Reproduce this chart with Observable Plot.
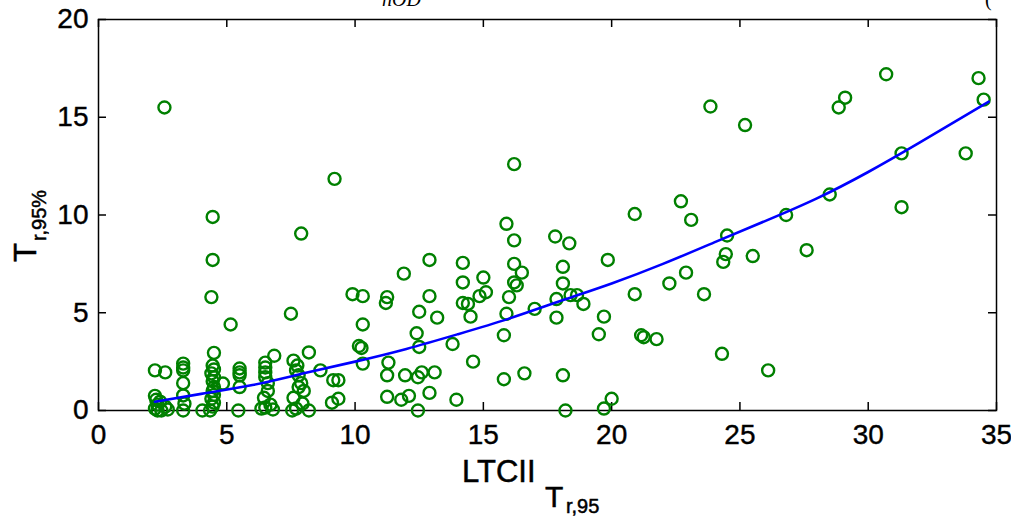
<!DOCTYPE html>
<html>
<head>
<meta charset="utf-8">
<script src="https://cdn.jsdelivr.net/npm/d3@7"></script>
<script src="https://cdn.jsdelivr.net/npm/@observablehq/plot@0.6"></script>
<style>
  html, body { margin: 0; padding: 0; background: #fff; }
  #chart { width: 1011px; height: 518px; overflow: hidden; }
</style>
</head>
<body>
<div id="chart"></div>
<script>
// Observed LTCII (x) against T_r,95% (y)
const ltcii = [
  2.57, 2.2, 2.6, 2.2, 2.25, 2.3, 2.2, 2.45, 2.6, 2.4, 2.7, 2.3,
  3.3, 3.3, 3.3, 3.3, 3.3, 3.35, 3.3,
  4.45, 4.45, 4.4, 4.5, 4.45, 4.5, 4.4, 4.5, 4.45, 4.5, 4.45, 4.5, 4.4, 4.5, 4.45, 4.85, 4.05, 4.35,
  5.15, 5.5, 5.5, 5.5, 5.5, 5.45,
  6.85, 6.5, 6.5, 6.5, 6.5, 6.6, 6.45, 6.5, 6.35, 6.7, 6.6, 6.8,
  7.5, 7.9, 8.2, 7.6, 7.75, 7.7, 7.8, 7.9, 8.0, 7.6, 7.95, 7.55, 8.2, 7.8, 7.7,
  8.65, 9.15, 9.35, 9.1, 9.35, 9.2,
  9.9, 10.3, 11.9, 12.9, 14.2, 11.25, 11.2, 12.9, 14.2, 15.0, 14.2, 14.4, 14.5, 14.85, 15.1,
  12.5, 13.2, 10.3, 12.4, 10.15, 10.25, 12.5, 13.8, 10.3, 11.3, 14.6, 11.25, 11.95, 12.45,
  12.6, 13.1, 11.25, 11.8, 12.1, 12.9, 13.95, 12.45,
  16.2, 15.9, 16.2, 16.2, 16.5, 16.2, 16.3, 16.0, 15.9, 15.8, 15.8, 16.6, 17.0, 17.8, 18.35,
  18.1, 18.1, 17.85, 17.85, 18.4, 18.65, 18.9, 18.1, 18.2, 19.85, 20.9, 20.9, 19.7, 19.5,
  21.15, 21.25, 21.75, 20.0, 19.7,
  23.85, 25.2, 30.7, 34.3, 29.1, 28.85, 34.5, 31.3, 33.8, 31.3, 28.5, 26.8, 27.6, 22.7,
  23.1, 24.5, 24.45, 24.35, 25.5, 22.9, 22.25, 23.6, 24.3, 26.1
];
const tr95 = [
  15.5, 2.05, 1.95, 0.75, 0.55, 0.3, 0.1, 0.0, 0.2, 0.45, 0.05, 0.0,
  2.4, 2.2, 2.05, 1.4, 0.77, 0.35, 0.0,
  9.9, 7.7, 5.8, 2.95, 2.3, 2.1, 1.9, 1.7, 1.5, 1.2, 1.0, 0.8, 0.6, 0.4, 0.2, 1.38, 0.0, 0.0,
  4.4, 2.15, 1.95, 1.8, 1.2, 0.0,
  2.8, 2.45, 2.2, 1.95, 1.7, 1.4, 0.65, 0.15, 0.1, 0.3, 1.0, 0.05,
  4.95, 9.05, 2.97, 2.55, 2.3, 2.05, 1.8, 1.4, 1.0, 0.65, 0.35, 0.0, 0.0, 1.2, 0.1,
  2.05, 1.55, 1.55, 0.4, 0.6, 11.85,
  5.95, 5.85, 7.0, 7.7, 7.55, 5.8, 5.5, 5.85, 6.55, 6.8, 5.5, 5.45, 4.8, 5.85, 6.05,
  5.05, 4.75, 4.4, 3.95, 3.3, 3.2, 3.25, 3.4, 2.4, 2.45, 2.5, 1.8, 1.8, 1.7,
  1.95, 1.95, 0.7, 0.55, 0.75, 0.9, 0.55, 0.0,
  12.6, 9.55, 8.7, 7.5, 7.05, 6.55, 6.4, 5.8, 4.95, 3.85, 1.6, 1.9, 5.2, 8.9, 8.55,
  7.35, 6.5, 5.7, 4.75, 5.9, 5.9, 5.45, 1.8, 0.0, 7.7, 10.05, 5.95, 4.8, 3.9,
  3.85, 3.75, 3.65, 0.6, 0.1,
  15.55, 14.6, 17.2, 17.0, 16.0, 15.5, 15.9, 13.15, 13.15, 10.4, 11.05, 10.0, 8.2, 10.7,
  9.75, 8.95, 8.0, 7.6, 7.9, 7.05, 6.5, 5.95, 2.9, 2.05
];

// Fitted trend curve
const fitX = [2.2, 4, 6, 8, 10, 12, 14, 16, 18, 20, 22, 24, 26, 28, 30, 32, 34.7];
const fitY = [0.45, 0.85, 1.3, 1.9, 2.5, 3.15, 3.9, 4.7, 5.6, 6.5, 7.5, 8.6, 9.7, 10.85, 12.2, 13.7, 15.8];

const xTicks = [0, 5, 10, 15, 20, 25, 30, 35];
const yTicks = [0, 5, 10, 15, 20];

const points = ltcii.map((x, i) => ({x, y: tr95[i]}));
const fit = fitX.map((x, i) => ({x, y: fitY[i]}));

const W = 1011, H = 518;
const mL = 98, mR = 15, mT = 19, mB = 108;
const innerW = W - mL - mR, innerH = H - mT - mB;
const tickLen = 8;
const font = "'Liberation Sans', Arial, Helvetica, sans-serif";

const chart = Plot.plot({
  width: W,
  height: H,
  marginLeft: mL,
  marginRight: mR,
  marginTop: mT,
  marginBottom: mB,
  style: {fontFamily: font, fontSize: "28px", color: "#000", background: "#fff", overflow: "visible"},
  x: {domain: [0, 35], ticks: xTicks, tickSize: 0, tickPadding: 14, label: null},
  y: {domain: [0, 20], ticks: yTicks, tickSize: 0, tickPadding: 10, label: null},
  marks: [
    Plot.frame({stroke: "#000", strokeWidth: 1.5}),
    // inward tick marks on all four sides
    Plot.tickX(xTicks, {x: d => d, insetTop: innerH - tickLen, stroke: "#000", strokeWidth: 1.5}),
    Plot.tickX(xTicks, {x: d => d, insetBottom: innerH - tickLen, stroke: "#000", strokeWidth: 1.5}),
    Plot.tickY(yTicks, {y: d => d, insetRight: innerW - tickLen, stroke: "#000", strokeWidth: 1.5}),
    Plot.tickY(yTicks, {y: d => d, insetLeft: innerW - tickLen, stroke: "#000", strokeWidth: 1.5}),
    Plot.dot(points, {x: "x", y: "y", r: 6, stroke: "#008000", strokeWidth: 2.4, fill: "none"}),
    Plot.line(fit, {x: "x", y: "y", curve: "natural", stroke: "#0000ff", strokeWidth: 2.6})
  ]
});

document.getElementById("chart").appendChild(chart);

const svg = d3.select(chart);
// slightly heavier tick labels
svg.selectAll("g[aria-label$='tick label'] text").attr("stroke", "#000").attr("stroke-width", 0.4);

// x-axis label: LTCII with nested subscript T_{r,95}
const xl = svg.append("g").attr("font-family", font).attr("fill", "#000")
  .attr("text-anchor", "start").attr("stroke", "#000").attr("stroke-width", 0.5);
xl.append("text").attr("x", 462).attr("y", 482).attr("font-size", 31).text("LTCII");
xl.append("text").attr("x", 545).attr("y", 507).attr("font-size", 30).text("T");
xl.append("text").attr("x", 566).attr("y", 513).attr("font-size", 20).text("r,95");

// y-axis label: T_{r,95%}
const yl = svg.append("g")
  .attr("font-family", font).attr("fill", "#000").attr("text-anchor", "start")
  .attr("stroke", "#000").attr("stroke-width", 0.5)
  .attr("transform", "translate(36,262) rotate(-90)");
const yt = yl.append("text").attr("font-size", 31);
yt.append("tspan").text("T");
yt.append("tspan").attr("dx", 2).attr("dy", 10).attr("font-size", 20).text("r,95%");

// title line above the axes (cut by the top edge)
const tl = svg.append("g").attr("text-anchor", "start").attr("fill", "#000")
  .attr("font-family", "'Liberation Serif', 'DejaVu Serif', serif");
tl.append("text").attr("x", 382).attr("y", 6).attr("font-style", "italic").attr("font-size", 20).text("nOD");
tl.append("text").attr("x", 985).attr("y", 6).attr("font-size", 20).text("(");
</script>
</body>
</html>
